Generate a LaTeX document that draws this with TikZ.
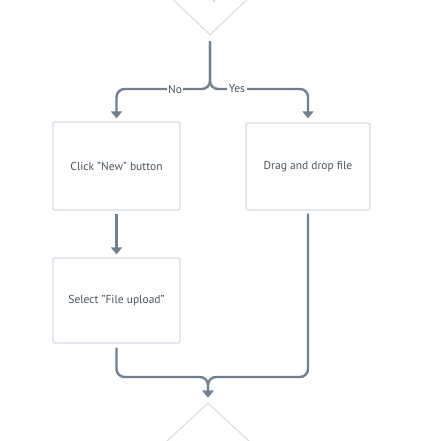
\documentclass[tikz,border=0pt]{standalone}
\usepackage{fontspec}
\setmainfont{PT Sans}
\usetikzlibrary{shapes.geometric,arrows.meta}
\definecolor{conncol}{HTML}{718090}
\definecolor{boxcol}{HTML}{D3DCE6}
\definecolor{txtcol}{HTML}{4A545F}
\begin{document}
\begin{tikzpicture}[x=1pt,y=-1pt,
  box/.style={draw=boxcol,line width=1.3pt,rounded corners=2pt,fill=white,inner sep=2pt,
    font=\fontsize{11.5}{13}\selectfont,text=txtcol},
  decision/.style={draw=boxcol,line width=1pt,diamond,inner sep=0pt},
  conn/.style={draw=conncol,line width=2.4pt,rounded corners=8pt},
  lbl/.style={fill=white,inner sep=1.5pt,font=\fontsize{11.5}{13}\selectfont,text=txtcol}]
\useasboundingbox (0,0) rectangle (422,441);
\fill[white] (0,0) rectangle (422,441);
\begin{scope}
\clip (0,0) rectangle (422,441);
\node[decision,minimum width=126pt,minimum height=120pt] (d1) at (210,-25) {};
\node[font=\fontsize{11.5}{13}\selectfont,text=txtcol!50,anchor=base,inner sep=0pt] (dtxt) at (210,1) {drop?};
\node[decision,minimum width=130pt,minimum height=120pt] (d2) at (208,463) {};
\end{scope}
\node[box,minimum width=127pt,minimum height=88pt] (click) at (116.5,166) {Click "New" button};
\node[box,minimum width=124pt,minimum height=87pt] (drag) at (308,166.5) {Drag and drop file};
\node[box,minimum width=127pt,minimum height=85pt] (sel) at (116.5,300.5) {Select "File upload"};
\coordinate (split) at (210,89);
\coordinate (merge) at (208,377);
\draw[conn,-{Triangle[width=11pt,length=7pt]},shorten <=6pt,shorten >=3pt] (d1.south) -- (split) -| (click.north);
\draw[conn,-{Triangle[width=11pt,length=7pt]},shorten <=6pt,shorten >=4pt] (d1.south) -- (split) -| (drag.north);
\node[lbl] (no) at (175,89) {No};
\node[lbl] (yes) at (237,89) {Yes};
\draw[conn,-{Triangle[width=11pt,length=7pt]},shorten <=3pt,shorten >=3pt] (click.south) -- (sel.north);
\draw[conn,-{Triangle[width=11pt,length=7pt]},shorten <=4pt,shorten >=5pt] (sel.south) |- (merge) -- (d2.north);
\draw[conn,-{Triangle[width=11pt,length=7pt]},shorten <=3pt,shorten >=5pt] (drag.south) |- (merge) -- (d2.north);
\end{tikzpicture}
\end{document}
